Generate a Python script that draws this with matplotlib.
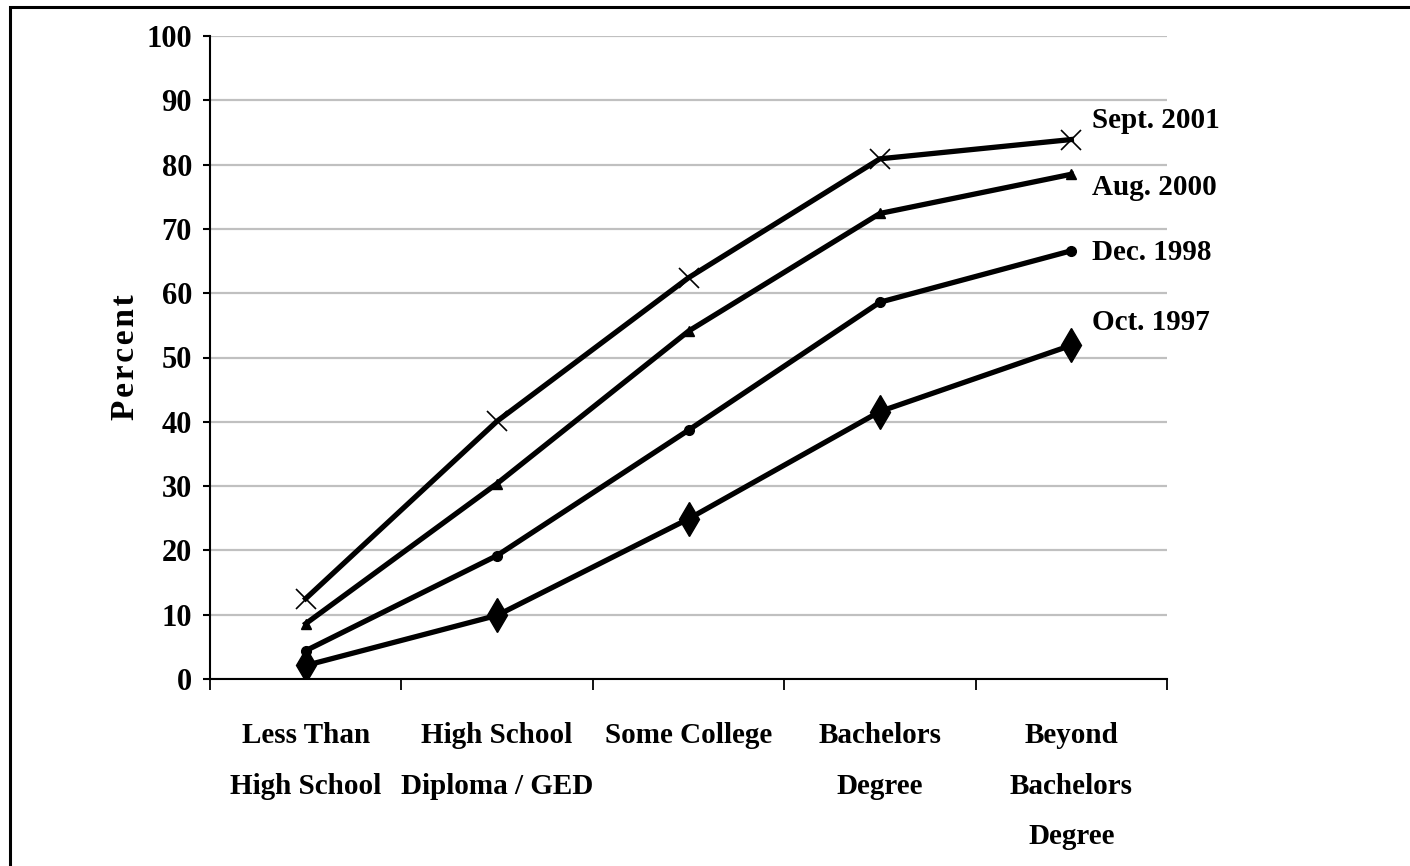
import matplotlib
matplotlib.use("Agg")
import matplotlib.pyplot as plt
from matplotlib.patches import Rectangle

categories = ["Less Than\nHigh School", "High School\nDiploma / GED", "Some College",
              "Bachelors\nDegree", "Beyond\nBachelors\nDegree"]
series_names = ["Sept. 2001", "Aug. 2000", "Dec. 1998", "Oct. 1997"]
sept_2001 = [12.5, 40.1, 62.4, 80.9, 83.9]
aug_2000 = [8.6, 30.4, 54.1, 72.4, 78.5]
dec_1998 = [4.4, 19.2, 38.7, 58.6, 66.6]
oct_1997 = [2.1, 9.9, 24.9, 41.6, 51.9]
y_ticks = [0, 10, 20, 30, 40, 50, 60, 70, 80, 90, 100]

plt.rcParams['font.family'] = ['Liberation Serif', 'DejaVu Serif']
plt.rcParams['font.weight'] = 'bold'

fig = plt.figure(figsize=(14.1, 8.66), dpi=100)
ax = fig.add_axes([210 / 1410, 1 - 679 / 866, (1167 - 210) / 1410, (679 - 36) / 866])

# frame around the whole chart
fig.patches.append(Rectangle((10 / 1410, -0.1), 1.2, 0.1 + (1 - 7 / 866), transform=fig.transFigure,
                             fill=False, edgecolor='black', linewidth=2.2, clip_on=False))

x = list(range(len(categories)))
styles = [
    dict(marker='x', markersize=14, markeredgewidth=1.2),
    dict(marker='^', markersize=7),
    dict(marker='o', markersize=7),
    dict(marker='d', markersize=17),
]
for vals, st in zip([sept_2001, aug_2000, dec_1998, oct_1997], styles):
    ax.plot(x, vals, color='black', linewidth=3.8, markerfacecolor='black',
            markeredgecolor='black', zorder=3, **st)

# series labels to the right of the last points
label_y = [86.9, 76.5, 66.3, 55.4]
for name, ly in zip(series_names, label_y):
    ax.text(4.11, ly, name, fontsize=21, fontweight='bold', ha='left', va='center',
            clip_on=False)

ax.set_xlim(-0.5, len(categories) - 0.5)
ax.set_ylim(0, 100)
ax.set_yticks(y_ticks)
ax.set_yticklabels([str(v) for v in y_ticks], fontsize=22, fontweight='bold')
ax.yaxis.grid(True, color='#c0c0c0', linewidth=1.6)
ax.set_axisbelow(True)

ax.set_xticks(x)
ax.set_xticklabels(categories, fontsize=21, fontweight='bold', linespacing=2.12, va='top')
ax.set_xticks([i - 0.5 for i in range(len(categories) + 1)], minor=True)
ax.tick_params(axis='x', which='major', length=0, pad=31)
ax.tick_params(axis='x', which='minor', length=8, width=1.3, direction='out')
ax.tick_params(axis='y', length=5, width=1.5, direction='out', pad=8)

for s in ['top', 'right']:
    ax.spines[s].set_visible(False)
for s in ['left', 'bottom']:
    ax.spines[s].set_linewidth(1.5)

ax.set_ylabel("P\u200ae\u200ar\u200ac\u200ae\u200an\u200at", fontsize=24, fontweight='bold', labelpad=4)

fig.savefig("out.png", dpi=100)
